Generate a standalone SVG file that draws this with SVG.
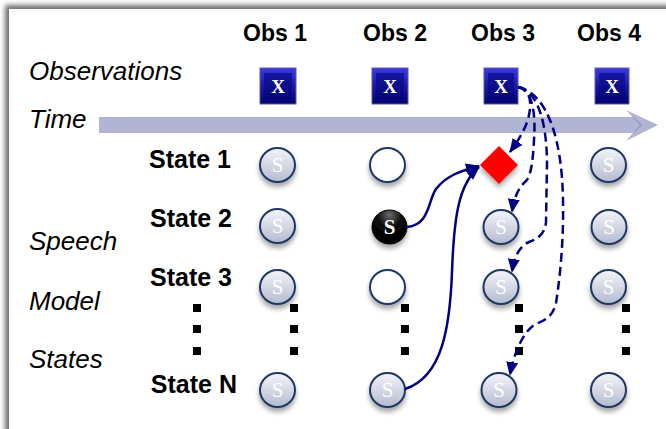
<svg xmlns="http://www.w3.org/2000/svg" width="666" height="429" viewBox="0 0 666 429">
  <defs>
    <style>
      .obs-label { font-family: "Liberation Sans", Arial, sans-serif; font-weight: bold; font-size: 23px; fill: #000; text-anchor: middle; }
      .state-label { font-family: "Liberation Sans", Arial, sans-serif; font-weight: bold; font-size: 25px; fill: #000; text-anchor: end; }
      .side-label { font-family: "Liberation Sans", Arial, sans-serif; font-style: italic; font-size: 26px; fill: #000; }
      .state { fill: url(#stateGrad); stroke: #1f3864; stroke-width: 2; filter: url(#shadow); }
      .state-empty { fill: #fff; stroke: #1f3864; stroke-width: 2; filter: url(#shadow); }
      .state-active { fill: url(#blackGrad); stroke: #000; stroke-width: 1; filter: url(#shadow); }
      .s-text { font-family: "Liberation Serif", "Times New Roman", serif; font-size: 21px; fill: #fff; text-anchor: middle; }
      .s-text-bold { font-family: "Liberation Serif", "Times New Roman", serif; font-size: 21px; font-weight: bold; fill: #fff; text-anchor: middle; }
      .x-box { fill: url(#boxGrad); stroke: #5c5ca0; stroke-width: 1; }
      .x-inner { fill: url(#boxInner); }
      .x-text { font-family: "Liberation Serif", "Times New Roman", serif; font-size: 19px; font-weight: bold; fill: #fff; text-anchor: middle; }
      .dots rect { fill: #000; }
      .edge { fill: none; stroke: #000080; stroke-width: 2.5; }
      .edge-dash { fill: none; stroke: #000080; stroke-width: 2.5; stroke-dasharray: 9 5; }
      .time-bar { fill: #7f82b8; fill-opacity: 0.6; }
    </style>
    <linearGradient id="stateGrad" x1="0" y1="0" x2="0" y2="1">
      <stop offset="0" stop-color="#f4f5fa"/>
      <stop offset="1" stop-color="#b4bad0"/>
    </linearGradient>
    <radialGradient id="blackGrad" cx="0.5" cy="0.15" r="0.8">
      <stop offset="0" stop-color="#6a6a6a"/>
      <stop offset="0.45" stop-color="#0a0a0a"/>
      <stop offset="1" stop-color="#000"/>
    </radialGradient>
    <linearGradient id="boxGrad" x1="0" y1="0" x2="0" y2="1">
      <stop offset="0" stop-color="#3b3be0"/>
      <stop offset="0.5" stop-color="#1a1aa8"/>
      <stop offset="1" stop-color="#000070"/>
    </linearGradient>
    <linearGradient id="boxInner" x1="0" y1="0" x2="0" y2="1">
      <stop offset="0" stop-color="#1515a0"/>
      <stop offset="1" stop-color="#06067a"/>
    </linearGradient>
    <filter id="shadow" x="-40%" y="-40%" width="180%" height="190%">
      <feDropShadow dx="0" dy="4" stdDeviation="2.5" flood-color="#000" flood-opacity="0.35"/>
    </filter>
    <filter id="frameBlur" x="-5%" y="-5%" width="110%" height="110%">
      <feGaussianBlur stdDeviation="2.5"/>
    </filter>
    <marker id="arrow" viewBox="0 0 14 12" refX="13" refY="6" markerWidth="14" markerHeight="12" markerUnits="userSpaceOnUse" orient="auto">
      <path d="M0,0 L14,6 L0,12 z" fill="#000080"/>
    </marker>
  </defs>

  <!-- page with framed panel -->
  <rect width="666" height="429" fill="#fff"/>
  <rect x="5" y="5" width="720" height="480" fill="#6e6e6e" filter="url(#frameBlur)"/>
  <rect x="9" y="9" width="720" height="480" fill="#fff"/>

  <!-- column headers -->
  <g id="headers">
    <text class="obs-label" x="275" y="41">Obs 1</text>
    <text class="obs-label" x="395" y="41">Obs 2</text>
    <text class="obs-label" x="503" y="41">Obs 3</text>
    <text class="obs-label" x="609" y="41">Obs 4</text>
  </g>

  <!-- side captions -->
  <g id="captions">
    <text class="side-label" x="29" y="80">Observations</text>
    <text class="side-label" x="29" y="128">Time</text>
    <text class="side-label" x="29" y="250">Speech</text>
    <text class="side-label" x="29" y="310">Model</text>
    <text class="side-label" x="29" y="368">States</text>
  </g>

  <!-- row labels -->
  <g id="row-labels">
    <text class="state-label" x="231" y="168">State 1</text>
    <text class="state-label" x="232" y="227">State 2</text>
    <text class="state-label" x="232" y="286">State 3</text>
    <text class="state-label" x="237" y="393">State N</text>
  </g>

  <!-- time axis -->
  <g id="time-axis">
    <polygon class="time-bar" points="99,117 634,117 642,125 634,133 99,133"/>
    <polygon class="time-bar" points="626,110 658,125 626,141 640,125"/>
  </g>

  <!-- observation boxes -->
  <g id="obs-1">
    <rect class="x-box" x="260" y="68" width="36" height="36"/>
    <rect class="x-inner" x="264" y="73" width="28" height="26"/>
    <text class="x-text" x="278" y="93">X</text>
  </g>
  <g id="obs-2">
    <rect class="x-box" x="372" y="68" width="36" height="36"/>
    <rect class="x-inner" x="376" y="73" width="28" height="26"/>
    <text class="x-text" x="390" y="93">X</text>
  </g>
  <g id="obs-3">
    <rect class="x-box" x="484" y="68" width="34" height="36"/>
    <rect class="x-inner" x="488" y="73" width="26" height="26"/>
    <text class="x-text" x="501" y="93">X</text>
  </g>
  <g id="obs-4">
    <rect class="x-box" x="595" y="68" width="34" height="36"/>
    <rect class="x-inner" x="599" y="73" width="26" height="26"/>
    <text class="x-text" x="612" y="93">X</text>
  </g>

  <!-- vertical ellipsis markers between State 3 and State N -->
  <g id="ellipsis" class="dots">
    <rect x="193" y="304" width="8" height="8"/><rect x="193" y="325" width="8" height="8"/><rect x="193" y="347" width="8" height="8"/>
    <rect x="290" y="304" width="8" height="8"/><rect x="290" y="325" width="8" height="8"/><rect x="290" y="347" width="8" height="8"/>
    <rect x="401" y="304" width="8" height="8"/><rect x="401" y="325" width="8" height="8"/><rect x="401" y="347" width="8" height="8"/>
    <rect x="515" y="304" width="8" height="8"/><rect x="515" y="325" width="8" height="8"/><rect x="515" y="347" width="8" height="8"/>
    <rect x="622" y="304" width="8" height="8"/><rect x="622" y="325" width="8" height="8"/><rect x="622" y="347" width="8" height="8"/>
  </g>

  <!-- state nodes: column 1 -->
  <g id="s1-t1"><ellipse class="state" cx="277.5" cy="165" rx="17.5" ry="17"/><text class="s-text" x="277.5" y="172">S</text></g>
  <g id="s2-t1"><ellipse class="state" cx="277.5" cy="226" rx="17.5" ry="17"/><text class="s-text" x="277.5" y="233">S</text></g>
  <g id="s3-t1"><ellipse class="state" cx="277.5" cy="287" rx="17.5" ry="17"/><text class="s-text" x="277.5" y="294">S</text></g>
  <g id="sN-t1"><ellipse class="state" cx="277.5" cy="390" rx="17.5" ry="17"/><text class="s-text" x="277.5" y="397">S</text></g>

  <!-- state nodes: column 2 -->
  <g id="s1-t2"><ellipse class="state-empty" cx="387.5" cy="165" rx="17.5" ry="17"/></g>
  <g id="s2-t2"><ellipse class="state-active" cx="389.5" cy="227" rx="17.5" ry="17"/><text class="s-text-bold" x="389.5" y="234">S</text></g>
  <g id="s3-t2"><ellipse class="state-empty" cx="387.5" cy="287" rx="17.5" ry="17"/></g>
  <g id="sN-t2"><ellipse class="state" cx="387.5" cy="390" rx="17.5" ry="17"/><text class="s-text" x="387.5" y="397">S</text></g>

  <!-- column 3: best-path candidate (diamond) and states -->
  <g id="s1-t3"><polygon points="499,146 518,165 499,184 480,165" fill="#ff0000" filter="url(#shadow)"/></g>
  <g id="s2-t3"><ellipse class="state" cx="501" cy="227" rx="17.5" ry="17"/><text class="s-text" x="501" y="234">S</text></g>
  <g id="s3-t3"><ellipse class="state" cx="501" cy="287" rx="17.5" ry="17"/><text class="s-text" x="501" y="294">S</text></g>
  <g id="sN-t3"><ellipse class="state" cx="499" cy="390" rx="17.5" ry="17"/><text class="s-text" x="499" y="397">S</text></g>

  <!-- state nodes: column 4 -->
  <g id="s1-t4"><ellipse class="state" cx="608.5" cy="165" rx="17.5" ry="17"/><text class="s-text" x="608.5" y="172">S</text></g>
  <g id="s2-t4"><ellipse class="state" cx="609" cy="227" rx="17.5" ry="17"/><text class="s-text" x="609" y="234">S</text></g>
  <g id="s3-t4"><ellipse class="state" cx="608.5" cy="287" rx="17.5" ry="17"/><text class="s-text" x="608.5" y="294">S</text></g>
  <g id="sN-t4"><ellipse class="state" cx="608.5" cy="390" rx="17.5" ry="17"/><text class="s-text" x="608.5" y="397">S</text></g>

  <!-- connectors -->
  <g id="connectors">
    <!-- transitions into the diamond -->
    <path class="edge" d="M407,227 C430,225 428,200 436,189 C446,176 460,171 479,166" marker-end="url(#arrow)"/>
    <path class="edge" d="M405,389 C443,377 450,325 452,272 C454,215 459,184 479,167" marker-end="url(#arrow)"/>
    <!-- emissions from Obs 3 -->
    <path class="edge-dash" d="M518,87 C528,88 531,97 530,108 C529,124 520,138 510,152" marker-end="url(#arrow)"/>
    <path class="edge-dash" d="M518,87 C532,90 536,112 534,140 C533,160 531,176 526,181 C518,188 514,198 512,212" marker-end="url(#arrow)"/>
    <path class="edge-dash" d="M518,87 C540,92 547,128 547,165 L546,222 C545,234 538,239 529,242 C519,246 514,258 512,272" marker-end="url(#arrow)"/>
    <path class="edge-dash" d="M518,87 C548,94 562,140 563,200 C564,250 558,290 556,303 C553,316 546,320 536,324 C524,330 514,352 510,375" marker-end="url(#arrow)"/>
  </g>
</svg>
